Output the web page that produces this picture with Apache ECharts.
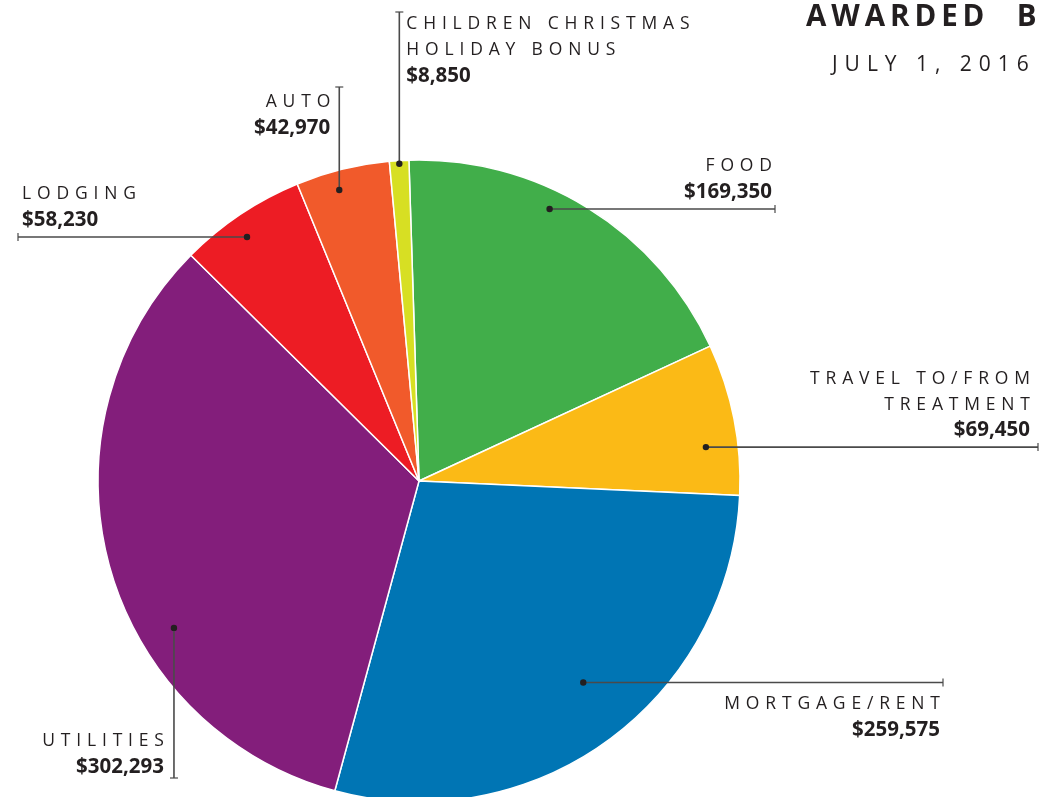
<!DOCTYPE html>
<html>
<head>
<meta charset="utf-8">
<script src="https://cdn.jsdelivr.net/npm/echarts@6/dist/echarts.min.js"></script>
<style>
  html, body { margin: 0; padding: 0; background: #fff; }
  #chart { width: 1042px; height: 797px; }
</style>
</head>
<body>
<div id="chart"></div>
<script>
// ---- Data ----
const categories = ['FOOD', 'TRAVEL TO/FROM TREATMENT', 'MORTGAGE/RENT', 'UTILITIES', 'LODGING', 'AUTO', 'CHILDREN CHRISTMAS HOLIDAY BONUS'];
const labelRows = [['FOOD'], ['TRAVEL TO/FROM', 'TREATMENT'], ['MORTGAGE/RENT'], ['UTILITIES'], ['LODGING'], ['AUTO'], ['CHILDREN CHRISTMAS', 'HOLIDAY BONUS']];
const values = [169350, 69450, 259575, 302293, 58230, 42970, 8850];
const titleText = 'AWARDED B';
const subtitleText = 'JULY 1, 2016';

// ---- Styles / layout ----
const colors = ['#41ae4a', '#fbba16', '#0075b4', '#831e7b', '#ed1c24', '#f15a2b', '#d7df23'];
const CX = 419, CY = 481, R = 321, START = 91.8;
const INK = '#231f20', LINE = '#4a4a4a';
// leader layout: t = position within slice, rf = radius fraction, dir: h/v, end = line end coordinate
const leader = [
  { t: 0.41, rf: 0.94, dir: 'h', end: 775, align: 'right', dx: -3, side: 'above' },
  { t: 0.66, rf: 0.90, dir: 'h', end: 1038, align: 'right', dx: -8, side: 'above' },
  { t: 0.47, rf: 0.81, dir: 'h', end: 943, align: 'right', dx: -3, side: 'below' },
  { t: 0.367, rf: 0.89, dir: 'v', end: 778, align: 'right', dx: -10, side: 'endAbove' },
  { t: 0.44, rf: 0.93, dir: 'h', end: 18, align: 'left', dx: 4, side: 'above' },
  { t: 0.41, rf: 0.94, dir: 'v', end: 87, align: 'right', dx: -9, side: 'endBelow' },
  { t: 0.5, rf: 0.99, dir: 'v', end: 12, align: 'left', dx: 7, side: 'endBelow' }
];

function spaced(s, sep) { return Array.from(s).join(sep); }
function money(v) { return '$' + v.toLocaleString('en-US'); }

const total = values.reduce((a, b) => a + b, 0);
const LH = 26;
const NAME_FONT = '400 17.5px "Open Sans"';
const VAL_FONT = '700 20.5px "Open Sans"';

function renderItem(params, api) {
  const i = params.dataIndex;
  const L = leader[i];
  let cum = 0;
  for (let k = 0; k < i; k++) cum += values[k];
  const a = ((90 - START) + (cum + L.t * values[i]) / total * 360) * Math.PI / 180;
  const px = CX + L.rf * R * Math.sin(a);
  const py = CY - L.rf * R * Math.cos(a);
  const children = [];
  let ex, ey;
  if (L.dir === 'h') { ex = L.end; ey = py; } else { ex = px; ey = L.end; }
  children.push({ type: 'line', shape: { x1: px, y1: py, x2: ex, y2: ey }, style: { stroke: LINE, lineWidth: 1.6 } });
  if (L.dir === 'h') {
    children.push({ type: 'line', shape: { x1: ex, y1: ey - 4, x2: ex, y2: ey + 4 }, style: { stroke: LINE, lineWidth: 1.2 } });
  } else {
    children.push({ type: 'line', shape: { x1: ex - 4, y1: ey, x2: ex + 4, y2: ey }, style: { stroke: LINE, lineWidth: 1.2 } });
  }
  children.push({ type: 'circle', shape: { cx: px, cy: py, r: 3.2 }, style: { fill: '#231f20' } });

  const rows = labelRows[i].map(r => ({ text: spaced(r, '\u2004'), font: NAME_FONT }));
  rows.push({ text: money(values[i]), font: VAL_FONT });
  const n = rows.length;
  let tx = (L.dir === 'h') ? ex + L.dx : px + L.dx;
  let firstBase;
  if (L.side === 'above') firstBase = ey - 10 - LH * (n - 1);
  else if (L.side === 'below') firstBase = ey + 28;
  else if (L.side === 'endAbove') firstBase = ey - 4 - LH * (n - 1);
  else firstBase = ey + (i === 6 ? 19 : 22);
  rows.forEach((r, k) => {
    children.push({
      type: 'text',
      style: {
        text: r.text, x: tx, y: firstBase + LH * k - 6.5,
        font: r.font, fill: INK, align: L.align, verticalAlign: 'middle'
      }
    });
  });
  return { type: 'group', children };
}

const chart = echarts.init(document.getElementById('chart'), null, { renderer: 'canvas' });
chart.setOption({
  animation: false,
  backgroundColor: '#ffffff',
  title: [
    {
      text: spaced(titleText, '\u2006').replace(/ /g, ' \u2002'), left: 806, top: 3, padding: 0,
      textStyle: { fontFamily: 'Open Sans', fontWeight: 700, fontSize: 29.5, color: INK }
    },
    {
      text: spaced(subtitleText, '\u2009\u2009'), left: 832, top: 55, padding: 0,
      textStyle: { fontFamily: 'Open Sans', fontWeight: 400, fontSize: 21, color: INK }
    }
  ],
  series: [
    {
      type: 'pie',
      center: [CX, CY],
      radius: R,
      startAngle: START,
      clockwise: true,
      silent: true,
      label: { show: false },
      labelLine: { show: false },
      itemStyle: { borderColor: '#ffffff', borderWidth: 1.5 },
      data: categories.map((c, i) => ({ name: c, value: values[i], itemStyle: { color: colors[i] } }))
    },
    {
      type: 'custom',
      coordinateSystem: 'none',
      silent: true,
      renderItem: renderItem,
      data: values.map((v, i) => [i, v]),
      z: 10
    }
  ]
});
</script>
</body>
</html>
